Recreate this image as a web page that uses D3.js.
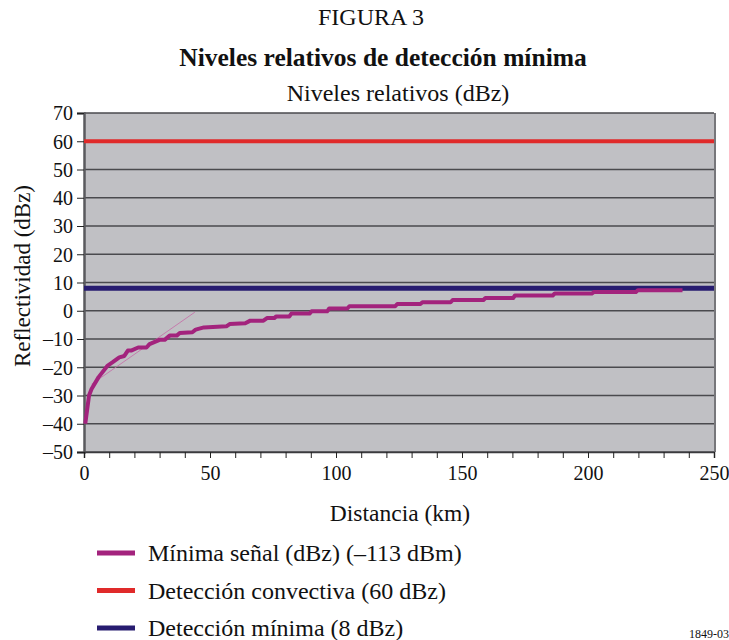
<!DOCTYPE html>
<html><head><meta charset="utf-8">
<script src="https://cdn.jsdelivr.net/npm/d3@7"></script>
<style>body{margin:0;background:#fff}svg{display:block}svg text{font-family:"Liberation Serif","Times New Roman",serif !important;fill:#111}</style>
</head><body>
<script>
// Data
const distKm = [0.5, 2, 3, 5.8, 9.4, 11.4, 14, 16, 17.4, 18.7, 21.5, 24.8, 26, 30, 32, 34, 36.8, 38, 43, 44.3, 47.6, 56.5, 57.8, 64, 66, 71.2, 72.6, 75.5, 76.3, 81.5, 82.3, 89.5, 90.3, 96.5, 97.3, 104.5, 105.3, 123.5, 124.3, 133.5, 134.3, 145.5, 146.3, 158.5, 159.3, 170.3, 171, 186, 186.8, 201.5, 202.3, 219, 219.8, 237.5];
const minSignal = [-40, -30, -27.7, -23.5, -19.4, -18.2, -16.5, -16, -14.1, -14.1, -13, -13, -11.8, -10.3, -10.3, -8.8, -8.8, -7.9, -7.6, -6.7, -5.9, -5.5, -4.7, -4.4, -3.5, -3.5, -2.6, -2.6, -2.0, -2.0, -1.0, -1.0, -0.2, -0.2, 0.8, 0.8, 1.6, 1.6, 2.4, 2.4, 3.0, 3.0, 3.8, 3.8, 4.5, 4.5, 5.4, 5.4, 6.1, 6.1, 6.6, 6.6, 7.3, 7.3];
const trendKm = [3, 44];
const trendDbz = [-26, -0.5];
const convectiveLevel = 60;
const minDetectLevel = 8;
const xDomain = [0, 250];
const yDomain = [-50, 70];
const xTickLabels = [0, 50, 100, 150, 200, 250];
const xMinorTicks = d3.range(0, 251, 10);
const yTickLabels = [-50, -40, -30, -20, -10, 0, 10, 20, 30, 40, 50, 60, 70];
const legendLabels = ["Mínima señal (dBz) (–113 dBm)", "Detección convectiva (60 dBz)", "Detección mínima (8 dBz)"];
const colors = {signal: "#a3237d", conv: "#e02a2a", min: "#271c70", trend: "#c56aa6"};

const SERIF = "'Liberation Serif', 'Times New Roman', serif";
const W = 729, H = 640;
const svg = d3.select("body").append("svg").attr("width", W).attr("height", H)
  .attr("font-family", SERIF);
const x = d3.scaleLinear().domain(xDomain).range([84, 714]);
const y = d3.scaleLinear().domain(yDomain).range([452, 113]);

// titles
svg.append("text").attr("x", 371).attr("y", 25).attr("text-anchor", "middle").style("font-size", "24px").text("FIGURA 3");
svg.append("text").attr("x", 383).attr("y", 66).attr("text-anchor", "middle").style("font-size", "25.5px").style("font-weight", "bold").text("Niveles relativos de detección mínima");
svg.append("text").attr("x", 398).attr("y", 101).attr("text-anchor", "middle").style("font-size", "24px").text("Niveles relativos (dBz)");

// plot background
svg.append("rect").attr("x", x(0)).attr("y", y(70)).attr("width", x(250) - x(0)).attr("height", y(-50) - y(70)).attr("fill", "#c0c0c4");

// gridlines
svg.append("g").selectAll("line").data(yTickLabels).join("line")
  .attr("x1", x(0)).attr("x2", x(250)).attr("y1", d => y(d)).attr("y2", d => y(d))
  .attr("stroke", "#4a4a4e").attr("stroke-width", 1.5);

// right border
svg.append("line").attr("x1", x(250) + 1).attr("x2", x(250) + 1).attr("y1", y(70)).attr("y2", y(-50)).attr("stroke", "#77777b").attr("stroke-width", 2);

// axes
const yAxis = d3.axisLeft(y).tickValues(yTickLabels).tickSize(7).tickPadding(4)
  .tickFormat(d => d < 0 ? "\u2013" + Math.abs(d) : d);
const gy = svg.append("g").attr("transform", `translate(${x(0)},0)`).call(yAxis).attr("font-family", SERIF);
gy.select(".domain").attr("stroke", "#5a5a5e").attr("stroke-width", 2.5);
gy.selectAll(".tick line").attr("stroke", "#222");
gy.selectAll(".tick text").style("font-size", "20px").style("font-family", SERIF).attr("fill", "#111").attr("dy", "0.34em");

const xMinor = d3.axisBottom(x).tickValues(xMinorTicks).tickSize(6).tickFormat("");
const gxm = svg.append("g").attr("transform", `translate(0,${y(-50)})`).call(xMinor);
gxm.select(".domain").attr("stroke", "#3a3a3e").attr("stroke-width", 1.5);
gxm.selectAll(".tick line").attr("stroke", "#222");
const xAxis = d3.axisBottom(x).tickValues(xTickLabels).tickSize(6).tickPadding(8);
const gx = svg.append("g").attr("transform", `translate(0,${y(-50)})`).call(xAxis).attr("font-family", SERIF);
gx.select(".domain").remove();
gx.selectAll(".tick line").attr("stroke", "#222");
gx.selectAll(".tick text").style("font-size", "20px").style("font-family", SERIF).attr("fill", "#111");

// reference lines
svg.append("line").attr("x1", x(0)).attr("x2", x(250)).attr("y1", y(convectiveLevel)).attr("y2", y(convectiveLevel)).attr("stroke", colors.conv).attr("stroke-width", 4);
svg.append("line").attr("x1", x(0)).attr("x2", x(250)).attr("y1", y(minDetectLevel)).attr("y2", y(minDetectLevel)).attr("stroke", colors.min).attr("stroke-width", 5);

// signal curve
const line = d3.line().x(d => x(d[0])).y(d => y(d[1]));
svg.append("path").datum(d3.zip(trendKm, trendDbz)).attr("d", line).attr("fill", "none").attr("stroke", colors.trend).attr("stroke-width", 1).attr("opacity", 0.8);
svg.append("path").datum(d3.zip(distKm, minSignal)).attr("d", line).attr("fill", "none").attr("stroke", colors.signal).attr("stroke-width", 4).attr("stroke-linejoin", "round");

// axis titles
svg.append("text").attr("transform", `translate(30,276) rotate(-90)`).attr("text-anchor", "middle").style("font-size", "23px").text("Reflectividad (dBz)");
svg.append("text").attr("x", 400).attr("y", 521).attr("text-anchor", "middle").style("font-size", "23.5px").text("Distancia (km)");

// legend
const legColors = [colors.signal, colors.conv, colors.min];
const lg = svg.append("g");
legendLabels.forEach((t, i) => {
  const yy = 553 + i * 37.5;
  lg.append("line").attr("x1", 97).attr("x2", 135).attr("y1", yy).attr("y2", yy).attr("stroke", legColors[i]).attr("stroke-width", 5);
  lg.append("text").attr("x", 148).attr("y", yy + 8).style("font-size", "24px").text(t);
});

svg.append("text").attr("x", 689).attr("y", 638).style("font-size", "12px").text("1849-03");
</script>
</body></html>
